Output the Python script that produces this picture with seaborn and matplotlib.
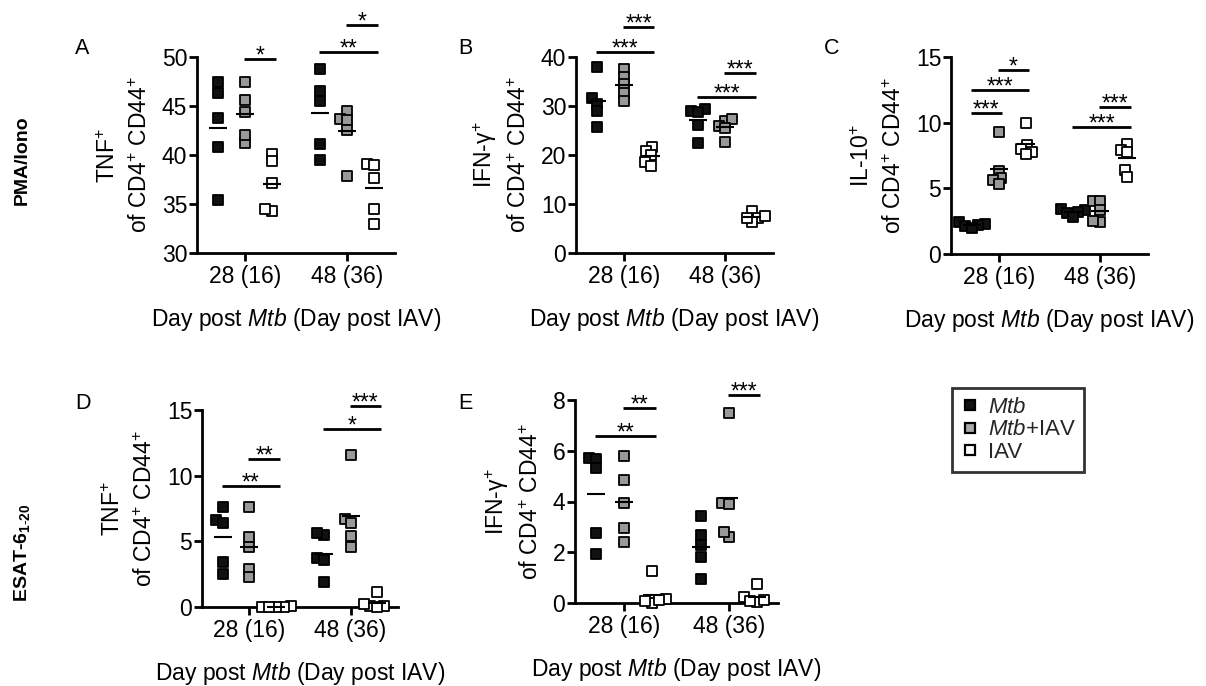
import numpy as np
import pandas as pd
import matplotlib
matplotlib.use("Agg")
import matplotlib.pyplot as plt
from matplotlib.lines import Line2D
import seaborn as sns

sns.set_theme(style="ticks")
plt.rcParams["font.family"] = ["Liberation Sans", "DejaVu Sans"]
plt.rcParams["mathtext.fontset"] = "custom"
plt.rcParams["mathtext.rm"] = "Liberation Sans"
plt.rcParams["mathtext.it"] = "Liberation Sans:italic"
plt.rcParams["mathtext.bf"] = "Liberation Sans:bold"
plt.rcParams["mathtext.sf"] = "Liberation Sans"

days = ["28 (16)", "48 (36)"]
groups = ["Mtb", "Mtb+IAV", "IAV"]
group_labels = [r"$\mathit{Mtb}$", r"$\mathit{Mtb}$+IAV", "IAV"]
group_colors = ["#111111", "#999999", "#ffffff"]

# PMA/Iono restimulation, TNF+ of CD4+ CD44+ (%); one list per day
pma_tnf_mtb = [[47.5, 46.3, 43.8, 40.8, 35.4], [48.8, 46.5, 45.5, 41.1, 39.5]]
pma_tnf_coinf = [[47.5, 45.6, 44.4, 41.2, 42.0], [44.5, 43.7, 43.6, 42.6, 37.9]]
pma_tnf_iav = [[40.1, 39.4, 37.1, 34.3, 34.5], [39.1, 39.0, 37.7, 34.5, 33.0]]
pma_tnf_sig = [(0, "Mtb+IAV", "IAV", 49.8, "*"),
               (1, "Mtb", "IAV", 50.5, "**"),
               (1, "Mtb+IAV", "IAV", 53.3, "*")]

# PMA/Iono, IFN-g+
pma_ifng_mtb = [[37.9, 31.6, 30.5, 28.9, 25.7], [29.4, 29.0, 28.8, 26.2, 22.5]]
pma_ifng_coinf = [[37.5, 36.0, 34.4, 32.6, 31.1], [27.0, 27.3, 26.0, 25.5, 22.6]]
pma_ifng_iav = [[21.6, 20.9, 19.9, 18.6, 17.7], [8.5, 7.2, 6.3, 7.6, 7.1]]
pma_ifng_sig = [(0, "Mtb+IAV", "IAV", 46.1, "***"),
                (0, "Mtb", "IAV", 41.0, "***"),
                (1, "Mtb+IAV", "IAV", 36.8, "***"),
                (1, "Mtb", "IAV", 31.9, "***")]

# PMA/Iono, IL-10+
pma_il10_mtb = [[2.4, 2.3, 2.2, 2.1, 1.95], [3.4, 3.35, 3.2, 3.15, 2.85]]
pma_il10_coinf = [[9.3, 6.3, 5.8, 5.6, 5.3], [4.0, 4.0, 3.35, 2.45, 2.5]]
pma_il10_iav = [[10.0, 8.3, 8.0, 7.8, 7.6], [8.4, 7.95, 7.8, 6.4, 5.9]]
pma_il10_sig = [(0, "Mtb+IAV", "IAV", 14.0, "*"),
                (0, "Mtb", "IAV", 12.5, "***"),
                (0, "Mtb", "Mtb+IAV", 10.7, "***"),
                (1, "Mtb+IAV", "IAV", 11.2, "***"),
                (1, "Mtb", "IAV", 9.65, "***")]

# ESAT-6(1-20) restimulation, TNF+
esat_tnf_mtb = [[7.6, 6.6, 6.4, 3.4, 2.5], [5.5, 5.6, 3.7, 3.6, 1.9]]
esat_tnf_coinf = [[7.6, 5.3, 4.6, 2.9, 2.3], [11.6, 6.7, 6.4, 5.4, 4.6]]
esat_tnf_iav = [[0.05, 0.02, 0.03, 0.0, 0.01], [1.15, 0.1, 0.05, 0.2, 0.0]]
esat_tnf_sig = [(0, "Mtb+IAV", "IAV", 11.3, "**"),
                (0, "Mtb", "IAV", 9.2, "**"),
                (1, "Mtb+IAV", "IAV", 15.3, "***"),
                (1, "Mtb", "IAV", 13.55, "*")]

# ESAT-6(1-20), IFN-g+
esat_ifng_mtb = [[5.72, 5.68, 5.32, 2.77, 1.95], [3.41, 2.68, 2.28, 1.82, 0.94]]
esat_ifng_coinf = [[5.81, 4.86, 3.96, 2.94, 2.42], [7.47, 3.96, 3.91, 2.61, 2.81]]
esat_ifng_iav = [[1.27, 0.0, 0.17, 0.1, 0.08], [0.74, 0.24, 0.04, 0.08, 0.1]]
esat_ifng_sig = [(0, "Mtb+IAV", "IAV", 7.67, "**"),
                 (0, "Mtb", "IAV", 6.58, "**"),
                 (1, "Mtb+IAV", "IAV", 8.2, "***")]

W, H = 1206, 686
FS = 16.5
SWARM_SPACING = 3.6   # marker size (pt) used to lay out the swarm
MARKER_SIZE = 7.2     # marker size (pt) actually drawn
fig = plt.figure(figsize=(W / 100, H / 100), dpi=100)


def px_axes(left, right, top, bottom):
    return fig.add_axes([left / W, 1 - bottom / H, (right - left) / W, (bottom - top) / H])


hue_offset = dict(zip(groups, [-0.2667, 0.0, 0.2667]))
swarm_collections = []


def draw_panel(ax, mtb, coinf, iav, ylim, yticks, ylabel, sig):
    rows = []
    for g, vals in zip(groups, (mtb, coinf, iav)):
        for d, dv in zip(days, vals):
            for v in dv:
                rows.append({"day": d, "group": g, "value": v})
    df = pd.DataFrame(rows)
    ax.set_ylim(*ylim)
    sns.swarmplot(data=df, x="day", y="value", hue="group", order=days,
                  hue_order=groups, palette=group_colors, dodge=True,
                  marker="s", size=SWARM_SPACING, edgecolor="black", linewidth=1.3,
                  legend=False, warn_thresh=1, ax=ax, zorder=3)
    for coll in ax.collections:
        coll.set_clip_on(False)
        swarm_collections.append(coll)
    sns.pointplot(data=df, x="day", y="value", hue="group", order=days,
                  hue_order=groups, palette=["black"] * 3, estimator="mean",
                  errorbar=None, dodge=0.5334, markers="_", markersize=13,
                  markeredgewidth=1.5, linestyles="none", legend=False,
                  ax=ax, zorder=5)
    ax.set_xlim(-0.47, 1.47)
    ax.set_ylim(*ylim)
    ax.set_yticks(yticks)
    sns.despine(ax=ax)
    for s in ("left", "bottom"):
        ax.spines[s].set_linewidth(2.0)
        ax.spines[s].set_color("black")
    ax.tick_params(axis="both", direction="out", length=5.5, width=2.0,
                   color="black", labelsize=FS, labelcolor="black")
    ax.tick_params(axis="y", pad=1.5)
    ax.tick_params(axis="x", pad=3)
    ax.set_ylabel(ylabel, fontsize=FS, labelpad=7, linespacing=1.5, color="black")
    ax.set_xlabel(r"Day post $\mathit{Mtb}$ (Day post IAV)", fontsize=FS,
                  labelpad=13, color="black")
    for day_i, ga, gb, yv, stars in sig:
        x1 = day_i + hue_offset[ga] - 0.01
        x2 = day_i + hue_offset[gb] + 0.035
        ax.plot([x1, x2], [yv, yv], color="black", lw=2.0, clip_on=False,
                solid_capstyle="butt")
        ax.annotate(stars, xy=((x1 + x2) / 2, yv), xytext=(0, -2.5),
                    textcoords="offset points", ha="center", va="baseline",
                    fontsize=FS, color="black", annotation_clip=False)


ax_a = px_axes(197, 395, 57, 253)
draw_panel(ax_a, pma_tnf_mtb, pma_tnf_coinf, pma_tnf_iav, (30, 50),
           [30, 35, 40, 45, 50], "TNF$^{+}$\nof CD4$^{+}$ CD44$^{+}$", pma_tnf_sig)
ax_b = px_axes(576, 773, 57, 253)
draw_panel(ax_b, pma_ifng_mtb, pma_ifng_coinf, pma_ifng_iav, (0, 40),
           [0, 10, 20, 30, 40], "IFN-γ$^{+}$\nof CD4$^{+}$ CD44$^{+}$", pma_ifng_sig)
ax_c = px_axes(951, 1148, 57, 254)
draw_panel(ax_c, pma_il10_mtb, pma_il10_coinf, pma_il10_iav, (0, 15),
           [0, 5, 10, 15], "IL-10$^{+}$\nof CD4$^{+}$ CD44$^{+}$", pma_il10_sig)
ax_d = px_axes(202, 398, 410, 607)
draw_panel(ax_d, esat_tnf_mtb, esat_tnf_coinf, esat_tnf_iav, (0, 15),
           [0, 5, 10, 15], "TNF$^{+}$\nof CD4$^{+}$ CD44$^{+}$", esat_tnf_sig)
ax_e = px_axes(575, 778, 400, 603)
draw_panel(ax_e, esat_ifng_mtb, esat_ifng_coinf, esat_ifng_iav, (0, 8),
           [0, 2, 4, 6, 8], "IFN-γ$^{+}$\nof CD4$^{+}$ CD44$^{+}$", esat_ifng_sig)

# Panel letters
for letter, (lx, ly) in zip("ABCDE", [(75, 38), (458, 38), (824, 38), (75, 393), (458, 393)]):
    fig.text(lx / W, 1 - ly / H, letter, fontsize=15.5, ha="left", va="top", color="black")

# Row labels
fig.text(22 / W, 1 - 160 / H, "PMA/Iono", rotation=90, fontsize=14,
         fontweight="bold", ha="center", va="center", color="black")
fig.text(22 / W, 1 - 553 / H, r"ESAT-6$_{\mathbf{1}\text{-}\mathbf{20}}$", rotation=90,
         fontsize=14, fontweight="bold", ha="center", va="center", color="black")

# Legend
handles = [Line2D([], [], marker="s", linestyle="none", markersize=6.5,
                  markerfacecolor=c, markeredgecolor="black", markeredgewidth=1.6)
           for c in ["#111111", "#aaaaaa", "#ffffff"]]
leg = fig.legend(handles, group_labels, loc="upper left",
                 bbox_to_anchor=(952 / W, 1 - 388 / H), frameon=True,
                 fancybox=False, edgecolor="black", fontsize=16,
                 handlelength=0.8, handletextpad=0.4, labelspacing=0.07,
                 borderpad=0.4, borderaxespad=0)
leg.get_frame().set_linewidth(2.0)

# Lay the swarms out once with tight spacing, then freeze them and draw
# the markers at full size so neighbouring points overlap slightly.
fig.canvas.draw()
for coll in swarm_collections:
    if "draw" in coll.__dict__:
        del coll.draw
    coll.set_sizes([MARKER_SIZE ** 2])

fig.savefig("out.png", dpi=100, facecolor="white")
